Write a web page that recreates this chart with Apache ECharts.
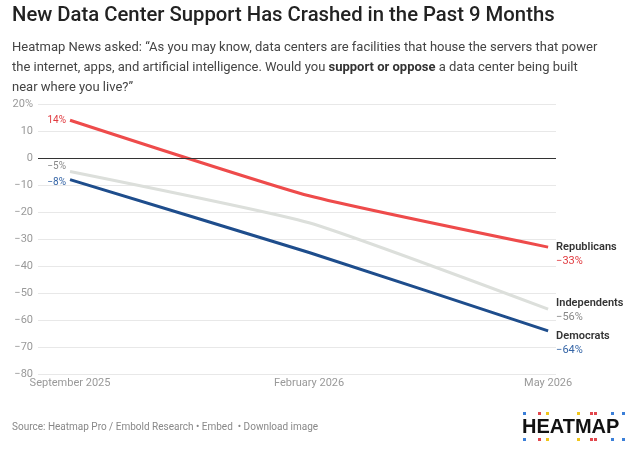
<!DOCTYPE html>
<html>
<head>
<meta charset="utf-8">
<title>New Data Center Support</title>
<script src="https://cdn.jsdelivr.net/npm/echarts@6/dist/echarts.min.js"></script>
<style>
  html, body { margin: 0; padding: 0; background: #fff; }
  #main { width: 641px; height: 463px; }
</style>
</head>
<body>
<div id="main"></div>
<script>
// survey dates (category positions 0,1,2)
var periods = ['September 2025', 'February 2026', 'May 2026'];
// net support, %
var republicans = [14, -14, -33];
var independents = [-5, -24, -56];
var democrats = [-8, -35, -64];
var yTicks = [20, 10, 0, -10, -20, -30, -40, -50, -60, -70, -80];

var FONT = 'Roboto';
var chart = echarts.init(document.getElementById('main'));

function pts(vals) {
  var out = [];
  for (var i = 0; i < vals.length; i++) out.push([i, vals[i]]);
  return out;
}
function fmtPct(v) {
  return (v < 0 ? '\u2212' + Math.abs(v) : v) + '%';
}

// one party line, start label on the left, name + value at the end
function makeSeries(name, vals, color, textColor, startOffset, endOffset) {
  var data = pts(vals);
  data[0] = {
    value: data[0],
    label: {
      show: true, position: 'left', distance: 4, offset: startOffset,
      formatter: fmtPct(vals[0]), color: textColor, fontSize: 10, fontFamily: FONT
    }
  };
  return {
    name: name,
    type: 'line',
    data: data,
    smooth: 0.15,
    symbol: 'circle',
    symbolSize: 0,
    showSymbol: true,
    lineStyle: { color: color, width: 3 },
    itemStyle: { color: color },
    label: { show: false },
    endLabel: {
      show: true,
      distance: 8,
      offset: endOffset,
      formatter: '{n|' + name + '}\n{v|' + fmtPct(vals[vals.length - 1]) + '}',
      rich: {
        n: { fontFamily: FONT, fontSize: 11, fontWeight: 600, color: '#333', lineHeight: 14 },
        v: { fontFamily: FONT, fontSize: 11, color: textColor, lineHeight: 14 }
      }
    },
    animation: false
  };
}

var dots = [];
var dotX = [523, 538, 546, 577, 590, 594, 611, 622];
var dotC = ['#3b7fd8', '#e2474d', '#f1c61c', '#f1c61c', '#e2474d', '#e2474d', '#3b7fd8', '#3b7fd8'];
for (var i = 0; i < dotX.length; i++) {
  dots.push({ type: 'rect', shape: { x: dotX[i], y: 412, width: 3, height: 3 }, style: { fill: dotC[i] } });
  dots.push({ type: 'rect', shape: { x: dotX[i], y: 438, width: 3, height: 3 }, style: { fill: dotC[i] } });
}

var option = {
  backgroundColor: '#fff',
  animation: false,
  grid: { left: 38, right: 85, top: 104, bottom: 89 },
  xAxis: {
    type: 'value',
    min: -0.134,
    max: 2.033,
    axisLine: { show: false },
    axisTick: { show: false },
    splitLine: { show: false },
    axisLabel: {
      customValues: [0, 1, 2],
      formatter: function (v) { return periods[Math.round(v)]; },
      color: '#999', fontSize: 11, fontFamily: FONT, margin: 4
    }
  },
  yAxis: {
    type: 'value',
    min: -80,
    max: 20,
    interval: 10,
    axisLine: { show: false },
    axisTick: { show: false },
    splitLine: { lineStyle: { color: '#e8e8e8', width: 1 } },
    axisLabel: {
      customValues: yTicks,
      formatter: function (v) {
        if (v === 20) return '20%';
        return v < 0 ? '\u2212' + Math.abs(v) : String(v);
      },
      color: '#999', fontSize: 11, fontFamily: FONT, margin: 5
    }
  },
  series: [
    makeSeries('Republicans', republicans, '#ee4b4b', '#e0393e', [0, 0], [0, 7]),
    makeSeries('Independents', independents, '#dcdfdb', '#888', [0, -5], [0, 1]),
    makeSeries('Democrats', democrats, '#1e4d8c', '#3565a6', [0, 3], [0, 12]),
    {
      // zero baseline
      type: 'line', data: [], silent: true,
      markLine: {
        symbol: 'none', silent: true, label: { show: false },
        lineStyle: { color: '#333', width: 1, type: 'solid' },
        data: [{ yAxis: 0 }]
      }
    }
  ],
  graphic: [
    {
      type: 'text', left: 12, top: 6,
      style: {
        text: 'New Data Center Support Has Crashed in the Past 9 Months',
        fontFamily: FONT, fontSize: 20.3, fontWeight: 500, fill: '#222'
      }
    },
    {
      type: 'text', left: 12, top: 38,
      style: {
        text: 'Heatmap News asked: \u201cAs you may know, data centers are facilities that house the servers that power\n' +
          'the internet, apps, and artificial intelligence. Would you {b|support or oppose} a data center being built\n' +
          'near where you live?\u201d',
        fontFamily: FONT, fontSize: 13, fill: '#444', lineHeight: 20,
        rich: {
          b: { fontFamily: FONT, fontSize: 13, fontWeight: 'bold', fill: '#333', lineHeight: 20 }
        }
      }
    },
    {
      type: 'text', left: 12, top: 422,
      style: {
        text: 'Source: Heatmap Pro / Embold Research \u2022 Embed  \u2022 Download image',
        fontFamily: FONT, fontSize: 10, fill: '#888'
      }
    },
    {
      type: 'text', left: 522, top: 417,
      style: {
        text: 'HEATMAP',
        fontFamily: 'Liberation Sans', fontSize: 20, fontWeight: 'bold', fill: '#111'
      }
    }
  ].concat(dots)
};

chart.setOption(option);
</script>
</body>
</html>
